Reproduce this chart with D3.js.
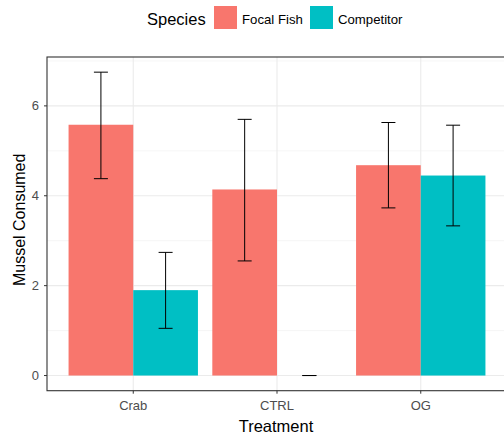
<!DOCTYPE html>
<html><head><meta charset="utf-8">
<script src="https://cdn.jsdelivr.net/npm/d3@7"></script>
<style>body{margin:0;background:#fff;font-family:"Liberation Sans",Arial,sans-serif}</style>
</head><body>
<svg id="c" width="504" height="434"></svg>
<script>
const treatments = ["Crab", "CTRL", "OG"];
const species = ["Focal Fish", "Competitor"];
const colors = ["#F8766D", "#00BFC4"];
const focalMean = [5.58, 4.14, 4.68];
const focalLow = [4.38, 2.55, 3.73];
const focalHigh = [6.75, 5.70, 5.63];
const compMean = [1.90, 0, 4.45];
const compLow = [1.05, 0, 3.33];
const compHigh = [2.74, 0, 5.57];
const yTicks = [0, 2, 4, 6];
const yMinor = [1, 3, 5, 7];

const svg = d3.select("#c");
const L = 47, T = 57, R = 507, B = 390.7;

// ggplot discrete: expansion 0.6 units each side
const x = d3.scalePoint().domain(treatments).range([L + (R - L) * 0.6 / 3.2, R - (R - L) * 0.6 / 3.2]);
const step = x.step();
const xc = t => x(t);
const y = d3.scaleLinear().domain([-0.3375, 7.0875]).range([B, T]);
const barW = step * 0.45;

const rows = [];
treatments.forEach((t, i) => {
  rows.push({t, s: 0, mean: focalMean[i], lo: focalLow[i], hi: focalHigh[i]});
  rows.push({t, s: 1, mean: compMean[i], lo: compLow[i], hi: compHigh[i]});
});

const g = svg.append("g");
svg.append("clipPath").attr("id","pc").append("rect").attr("x",L).attr("y",T).attr("width",R-L).attr("height",B-T);
const p = g.append("g").attr("clip-path","url(#pc)");
// grid
yMinor.forEach(v => p.append("line").attr("x1",L).attr("x2",R).attr("y1",y(v)).attr("y2",y(v)).attr("stroke","#f0f0f0").attr("stroke-width",0.6));
yTicks.forEach(v => p.append("line").attr("x1",L).attr("x2",R).attr("y1",y(v)).attr("y2",y(v)).attr("stroke","#ebebeb").attr("stroke-width",1.1));
treatments.forEach(t => p.append("line").attr("x1",xc(t)).attr("x2",xc(t)).attr("y1",T).attr("y2",B).attr("stroke","#ebebeb").attr("stroke-width",1.1));
// bars
p.selectAll("rect.bar").data(rows).enter().append("rect")
  .attr("x", d => xc(d.t) - barW + d.s * barW)
  .attr("y", d => y(Math.max(0, d.mean)))
  .attr("width", barW)
  .attr("height", d => Math.abs(y(d.mean) - y(0)))
  .attr("fill", d => colors[d.s]);
// error bars
const cap = 7;
rows.forEach(d => {
  const cx = xc(d.t) - barW / 2 + d.s * barW;
  p.append("line").attr("x1",cx).attr("x2",cx).attr("y1",y(d.lo)).attr("y2",y(d.hi)).attr("stroke","#000").attr("stroke-width",1);
  [d.lo, d.hi].forEach(v => p.append("line").attr("x1",cx-cap).attr("x2",cx+cap).attr("y1",y(v)).attr("y2",y(v)).attr("stroke","#000").attr("stroke-width",1));
});
// border
g.append("rect").attr("x",L).attr("y",T).attr("width",R-L).attr("height",B-T).attr("fill","none").attr("stroke","#333").attr("stroke-width",1.1);
// y ticks
yTicks.forEach(v => {
  g.append("line").attr("x1",L-3).attr("x2",L).attr("y1",y(v)).attr("y2",y(v)).attr("stroke","#333");
  g.append("text").attr("x",L-8).attr("y",y(v)).attr("dy","0.35em").attr("text-anchor","end").attr("font-size",13).attr("fill","#4d4d4d").text(v);
});
treatments.forEach(t => {
  g.append("line").attr("x1",xc(t)).attr("x2",xc(t)).attr("y1",B).attr("y2",B+3).attr("stroke","#333");
  g.append("text").attr("x",xc(t)).attr("y",B+19).attr("text-anchor","middle").attr("font-size",13).attr("fill","#4d4d4d").text(t);
});
// axis titles
g.append("text").attr("x",276).attr("y",432).attr("text-anchor","middle").attr("font-size",16.5).attr("fill","#000").text("Treatment");
g.append("text").attr("transform",`translate(25,${(T+B)/2 - 4}) rotate(-90)`).attr("text-anchor","middle").attr("font-size",16).attr("fill","#000").text("Mussel Consumed");
// legend
const lg = svg.append("g");
lg.append("text").attr("x",147).attr("y",24.5).attr("font-size",16.5).attr("fill","#000").text("Species");
const keyX = [214, 310];
species.forEach((s, i) => {
  lg.append("rect").attr("x",keyX[i]).attr("y",6).attr("width",23).attr("height",23).attr("fill",colors[i]);
  lg.append("text").attr("x",keyX[i]+28).attr("y",24).attr("font-size",13.2).attr("fill","#000").text(s);
});
</script>
</body></html>
